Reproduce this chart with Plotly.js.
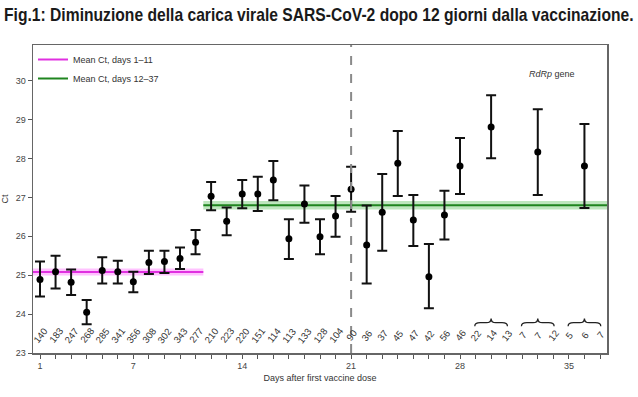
<!DOCTYPE html>
<html><head><meta charset="utf-8">
<script src="https://cdn.plot.ly/plotly-3.0.1.min.js"></script>
<style>html,body{margin:0;padding:0;background:#fff}#chart{width:638px;height:397px}</style>
</head><body><div id="chart"></div>
<script>
// ---- data ----
const days   = [1,2,3,4,5,6,7,8,9,10,11,12,13,14,15,16,17,18,19,20,21,22,23,24,25,26,27,28,30,33,36];
const ctMean = [24.89,25.09,24.82,24.05,25.12,25.09,24.83,25.33,25.35,25.43,25.85,27.03,26.39,27.09,27.09,27.45,25.94,26.83,25.99,26.52,27.21,25.78,26.62,27.88,26.42,24.96,26.55,27.81,28.81,28.17,27.81];
const ctLow  = [24.45,24.66,24.49,23.74,24.79,24.79,24.56,25.03,25.06,25.16,25.54,26.67,26.03,26.72,26.65,26.93,25.42,26.35,25.54,25.99,26.63,24.79,25.63,27.04,25.75,24.15,25.92,27.09,28.01,27.06,26.73];
const ctHigh = [25.35,25.50,25.15,24.36,25.46,25.37,25.09,25.63,25.63,25.71,26.16,27.40,26.74,27.45,27.53,27.94,26.44,27.31,26.44,27.04,27.79,26.79,27.60,28.71,27.06,25.80,27.17,28.53,29.63,29.27,28.89];
const countDays = [1,2,3,4,5,6,7,8,9,10,11,12,13,14,15,16,17,18,19,20,21,22,23,24,25,26,27,28,29,30,31,32,33,34,35,36,37];
const counts    = [140,183,247,268,285,341,356,308,302,343,277,210,223,220,151,114,113,133,128,104,90,36,37,45,47,42,56,46,22,14,13,7,7,12,5,6,7];
const braceGroups = [[29,31],[32,34],[35,37]];
const meanEarly = {label:'Mean Ct, days 1\u201311', from:0.55, to:11.5, value:25.08, half:0.09};
const meanLate  = {label:'Mean Ct, days 12\u201337', from:11.5, to:37.45, value:26.80, half:0.11};
const xTickLabels = {1:'1',7:'7',14:'14',21:'21',28:'28',35:'35'};
const vaccineDay2 = 21;

// ---- build ----
function band(m, fill){
  return {x:[m.from,m.to,m.to,m.from,m.from], y:[m.value-m.half,m.value-m.half,m.value+m.half,m.value+m.half,m.value-m.half],
    fill:'toself', fillcolor:fill, line:{width:0}, mode:'lines', showlegend:false, hoverinfo:'skip'};
}
const traces = [
  band(meanEarly,'rgba(255,120,255,0.45)'),
  band(meanLate,'rgba(110,200,110,0.45)'),
  {x:[meanEarly.from,meanEarly.to], y:[meanEarly.value,meanEarly.value], mode:'lines', name:meanEarly.label, line:{color:'#e030e0',width:2}},
  {x:[meanLate.from,meanLate.to], y:[meanLate.value,meanLate.value], mode:'lines', name:meanLate.label, line:{color:'#1f851f',width:2}},
  {x:days, y:ctMean, mode:'markers', showlegend:false,
   marker:{color:'#000',size:7},
   error_y:{type:'data', symmetric:false,
     array:ctHigh.map((h,i)=>h-ctMean[i]), arrayminus:ctMean.map((m,i)=>m-ctLow[i]),
     color:'#111', thickness:2, width:5}}
];

const annotations = counts.map((c,i)=>({x:countDays[i], y:23.46, xref:'x', yref:'y', text:String(c), showarrow:false,
  textangle:-52, font:{family:'Liberation Sans, Arial, sans-serif', size:9.5, color:'#333'}}));
annotations.push({xref:'paper', yref:'paper', x:0.905, y:0.93, text:'<i>RdRp</i> gene', showarrow:false, xanchor:'center',
  font:{family:'Liberation Sans, Arial, sans-serif', size:9, color:'#333'}});

const shapes = [{type:'line', xref:'x', yref:'paper', x0:vaccineDay2, x1:vaccineDay2, y0:0, y1:1,
  line:{color:'#8a8a8a', width:2, dash:'dash'}}];
braceGroups.forEach(g=>{
  const x0=g[0]-0.05, x1=g[1]+0.05, xm=(x0+x1)/2, yb=23.69, yt=23.78, yp=23.89;
  shapes.push({type:'path', xref:'x', yref:'y', line:{color:'#222', width:1.3},
    path:`M ${x0} ${yb} Q ${x0} ${yt} ${x0+0.35} ${yt} L ${xm-0.3} ${yt} Q ${xm} ${yt} ${xm} ${yp} Q ${xm} ${yt} ${xm+0.3} ${yt} L ${x1-0.35} ${yt} Q ${x1} ${yt} ${x1} ${yb}`});
});

const layout = {
  width:638, height:397, paper_bgcolor:'#fff', plot_bgcolor:'#fff',
  margin:{l:33, r:31, t:45, b:44},
  font:{family:'Liberation Sans, Arial, sans-serif', size:9, color:'#333'},
  title:{text:'<b>Fig.1: Diminuzione della carica virale SARS-CoV-2 dopo 12 giorni dalla vaccinazione.</b>',
    x:0.005, xanchor:'left', xref:'paper', y:0.962, yref:'container', yanchor:'middle',
    font:{family:'Liberation Sans, Arial, sans-serif', size:18, color:'#1a1a1a'}},
  xaxis:{range:[0.55,37.45], tickvals:countDays, ticktext:countDays.map(d=>xTickLabels[d]||''),
    ticks:'outside', ticklen:4, tickcolor:'#555', showgrid:false, zeroline:false,
    showline:true, mirror:true, linecolor:'#666', linewidth:1.5,
    tickfont:{size:9, color:'#444'},
    title:{text:'Days after first vaccine dose', font:{size:9, color:'#333'}, standoff:4}},
  yaxis:{range:[23,30.92], tickvals:[23,24,25,26,27,28,29,30], ticks:'outside', ticklen:4, tickcolor:'#555',
    showgrid:false, zeroline:false, showline:true, mirror:true, linecolor:'#666', linewidth:1.5,
    tickfont:{size:9, color:'#444'},
    title:{text:'Ct', font:{size:9, color:'#333'}, standoff:5}},
  showlegend:true,
  legend:{x:0.0, y:1.0, xanchor:'left', yanchor:'top', bgcolor:'rgba(0,0,0,0)', font:{size:9, color:'#333'}, tracegroupgap:0},
  annotations:annotations, shapes:shapes
};
function fitTitle(){
  const t = document.querySelector('#chart .gtitle');
  if(!t) return;
  const w = t.getComputedTextLength();
  const s = Math.min(1, 630 / w);
  t.setAttribute('text-anchor','start');
  t.setAttribute('x', String(4 / s));
  t.setAttribute('transform', `scale(${s},1)`);
}
Plotly.newPlot('chart', traces, layout, {staticPlot:true, displayModeBar:false}).then(fitTitle);
</script></body></html>
